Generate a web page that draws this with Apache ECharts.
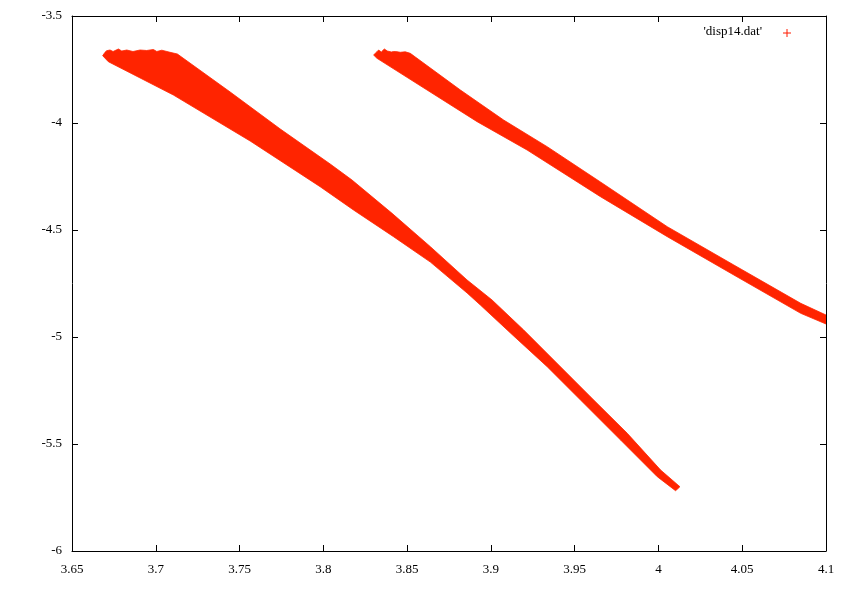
<!DOCTYPE html>
<html>
<head>
<meta charset="utf-8">
<script src="https://cdn.jsdelivr.net/npm/echarts@6/dist/echarts.min.js"></script>
<style>
html,body{margin:0;padding:0;background:#fff;}
#chart{width:846px;height:594px;}
</style>
</head>
<body>
<div id="chart"></div>
<script>
// Axis ticks
var xTicks = [3.65, 3.7, 3.75, 3.8, 3.85, 3.9, 3.95, 4, 4.05, 4.1];
var yTicks = [-6, -5.5, -5, -4.5, -4, -3.5];
var seriesName = "'disp14.dat'";

// Left band: upper (jagged top + upper edge) outline, left to right
var band1Upper = [
  [3.6683,-3.6855],[3.6697,-3.6696],[3.6707,-3.6621],[3.6727,-3.6589],[3.6745,-3.6659],
  [3.6777,-3.6542],[3.6797,-3.6636],[3.6827,-3.6589],[3.6864,-3.6659],[3.6906,-3.6589],
  [3.6946,-3.6612],[3.6986,-3.6565],[3.7006,-3.6659],[3.7036,-3.6598],[3.7085,-3.6696],
  [3.7129,-3.6776],[3.7444,-3.8551],[3.7743,-4.0280],[3.8041,-4.1916],[3.8171,-4.2664],
  [3.8410,-4.4220],[3.8639,-4.5780],[3.8858,-4.7336],[3.9007,-4.8271],[3.9196,-4.9673],
  [3.9375,-5.1075],[3.9594,-5.2790],[3.9814,-5.4500],[4.0013,-5.6215],[4.0128,-5.6995],
  [4.0114,-5.7103]
];
// Left band: lower edge, left to right
var band1Lower = [
  [3.6683,-3.6855],[3.6717,-3.7136],[3.7105,-3.8692],[3.7563,-4.0841],[3.7981,-4.2977],
  [3.8180,-4.4065],[3.8419,-4.5313],[3.8639,-4.6500],[3.8858,-4.7944],[3.8937,-4.8505],
  [3.9136,-4.9953],[3.9336,-5.1388],[3.9535,-5.2944],[3.9774,-5.4813],[3.9993,-5.6528],
  [4.0102,-5.7182]
];
// Right band: upper outline
var band2Upper = [
  [3.8300,-3.6822],[3.8320,-3.6668],[3.8330,-3.6589],[3.8346,-3.6682],[3.8364,-3.6542],
  [3.8382,-3.6636],[3.8406,-3.6682],[3.8419,-3.6659],[3.8440,-3.6668],[3.8459,-3.6696],
  [3.8489,-3.6673],[3.8519,-3.6743],[3.8549,-3.6916],[3.8818,-3.8458],[3.9076,-3.9860],
  [3.9336,-4.1107],[3.9654,-4.2757],[4.0053,-4.4846],[4.0450,-4.6636],[4.0849,-4.8425],
  [4.1000,-4.8972]
];
// Right band: lower edge
var band2Lower = [
  [3.8300,-3.6822],[3.8320,-3.6977],[3.8619,-3.8458],[3.8918,-3.9939],[3.9216,-4.1262],
  [3.9654,-4.3444],[4.0053,-4.5313],[4.0450,-4.7103],[4.0849,-4.8893],[4.1000,-4.9393]
];

var bands = [
  band1Upper.concat(band1Lower.slice().reverse()),
  band2Upper.concat(band2Lower.slice().reverse())
];

var RED = '#ff2400';
var FONT = 'Liberation Serif';

var chart = echarts.init(document.getElementById('chart'), null, {renderer:'canvas'});

function axisCommon(show){
  return {
    type:'value', min: 0, max: 0, interval: 0.05,
    axisLine:{show:true, onZero:false, lineStyle:{color:'#000', width:1}},
    axisTick:{show:true, inside:true, length:6, lineStyle:{color:'#000', width:1}},
    splitLine:{show:false},
    axisLabel:{show:show, color:'#000', fontFamily:FONT, fontSize:13}
  };
}

var xb = axisCommon(true); xb.min = xTicks[0]; xb.max = xTicks[xTicks.length-1]; xb.interval = 0.05; xb.position='bottom';
xb.axisLabel.margin = 12;
xb.axisLabel.formatter = function(v){ return String(parseFloat(v.toFixed(2))); };
var xt = axisCommon(false); xt.min = xb.min; xt.max = xb.max; xt.interval = 0.05; xt.position='top';
var yl = axisCommon(true); yl.min = yTicks[0]; yl.max = yTicks[yTicks.length-1]; yl.interval = 0.5; yl.position='left';
yl.axisLabel.margin = 10;
yl.axisLabel.formatter = function(v){ return String(parseFloat(v.toFixed(2))); };
var yr = axisCommon(false); yr.min = yl.min; yr.max = yl.max; yr.interval = 0.5; yr.position='right';

var option = {
  animation:false,
  backgroundColor:'#fff',
  grid:{left:72, top:16, right:20, bottom:43, containLabel:false},
  xAxis:[xb, xt],
  yAxis:[yl, yr],
  series:[{
    name: seriesName,
    type:'custom',
    xAxisIndex:0, yAxisIndex:0,
    clip:true,
    data:[[0],[1]],
    renderItem:function(params, api){
      var pts = bands[params.dataIndex].map(function(p){ return api.coord(p); });
      return {
        type:'polygon',
        shape:{points:pts},
        style:{fill:RED, stroke:RED, lineWidth:0.8, lineJoin:'round'}
      };
    }
  }],
  graphic:[
    {type:'text', right: 846-762, top: 25,
     style:{text: seriesName, fontFamily:FONT, fontSize:13, fill:'#000', textAlign:'right'}},
    {type:'line', shape:{x1:783, y1:33, x2:791, y2:33}, style:{stroke:'#ff1a00', lineWidth:1}},
    {type:'line', shape:{x1:787, y1:29, x2:787, y2:37}, style:{stroke:'#ff1a00', lineWidth:1}}
  ]
};
chart.setOption(option);
</script>
</body>
</html>
